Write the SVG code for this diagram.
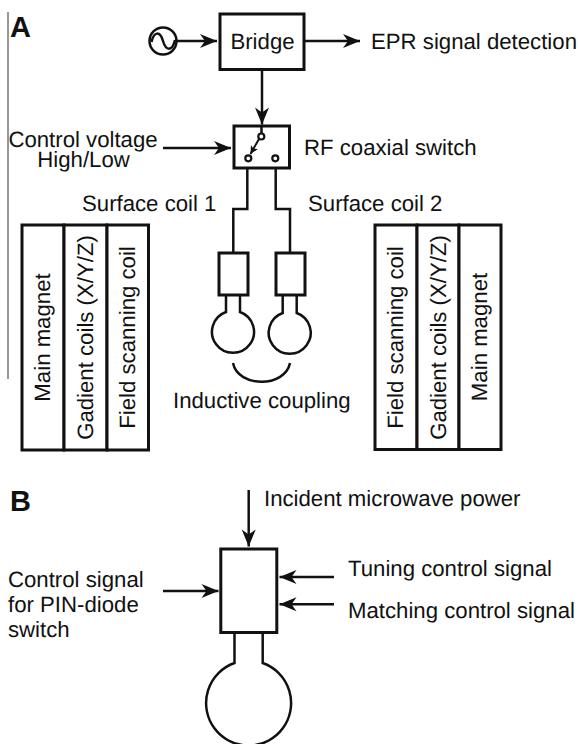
<svg xmlns="http://www.w3.org/2000/svg" width="578" height="744" viewBox="0 0 578 744">
<style>
text{font-family:"Liberation Sans",Arial,sans-serif;font-size:22.200px;fill:#111;text-rendering:geometricPrecision}
.h{font-size:29px;font-weight:bold}
.m{text-anchor:middle}
.s{fill:none;stroke:#111;stroke-width:2.500}
.b{fill:#fff;stroke:#111;stroke-width:3}
.c{fill:none;stroke:#111;stroke-width:2.500}
.a{fill:none;stroke:#111;stroke-width:2.500;marker-end:url(#ar)}
</style>
<defs>
<marker id="ar" markerUnits="userSpaceOnUse" markerWidth="19" markerHeight="16" refX="17.500" refY="8" orient="auto"><path d="M0.500 1L17.500 8L0.500 15L5.500 8Z" fill="#111"/></marker>
<marker id="sm" markerUnits="userSpaceOnUse" markerWidth="10" markerHeight="10" refX="8" refY="5" orient="auto"><path d="M0 1L8 5L0 9L2 5Z" fill="#111"/></marker>
</defs>
<path d="M8 12V379" fill="none" stroke="#333" stroke-width="1"/>
<text class="h" x="10" y="37">A</text>
<text class="h" x="10" y="510.500">B</text>
<g id="connectors">
<path class="a" d="M176 41H217"/>
<path class="a" d="M304 41H360"/>
<path class="a" d="M262 69V124.500"/>
<path class="a" d="M163 148H231"/>
<path class="c" d="M247.300 161V209H233.300V253"/>
<path class="c" d="M275.700 161V209H290V253"/>
<path class="c" d="M233 363C238 388 285 388 290 363"/>
<path class="a" d="M248.700 490V546.500"/>
<path class="a" d="M163 591H218.500"/>
<path class="a" d="M334 577H279.500"/>
<path class="a" d="M334 604.300H279.500"/>
</g>
<g id="source"><circle class="s" cx="163" cy="41" r="13.500"/><path class="s" d="M151.500 42C154 31 160 31 163 41S172 52 175 40"/></g>
<g id="bridge"><rect class="b" x="220" y="14" width="84" height="55.500"/><text class="m" x="262.500" y="49.300">Bridge</text></g>
<g id="epr"><text x="371" y="49.300">EPR signal detection</text></g>
<g id="switch"><rect class="b" x="234" y="126" width="55.500" height="42"/>
<path d="M261.500 126V133" class="c"/>
<path d="M259 139L250.500 154" fill="none" stroke="#111" stroke-width="2" marker-end="url(#sm)"/>
<circle cx="261.300" cy="136.500" r="3" fill="#fff" stroke="#111" stroke-width="2.200"/>
<circle cx="248.300" cy="158.300" r="3" fill="#fff" stroke="#111" stroke-width="2.200"/>
<circle cx="275.300" cy="158.300" r="3" fill="#fff" stroke="#111" stroke-width="2.200"/>
<text x="304" y="155">RF coaxial switch</text></g>
<g id="control"><text class="m" x="83" y="147">Control voltage</text><text class="m" x="83.500" y="167">High/Low</text></g>
<g id="labels-coils"><text x="82" y="211">Surface coil 1</text><text x="308" y="211">Surface coil 2</text></g>
<g id="coil1"><rect class="b" x="219" y="253" width="29" height="42"/><path class="c" d="M226 295V312A21 21 0 1 0 240 312V295"/></g>
<g id="coil2"><rect class="b" x="276" y="253" width="29" height="42"/><path class="c" d="M282.700 295V313A21 21 0 1 0 296.700 313V295"/></g>
<g id="inductive"><text x="173" y="408">Inductive coupling</text></g>
<g id="left-stack">
<rect class="b" x="22" y="225" width="42" height="225"/><rect class="b" x="64" y="225" width="43" height="225"/><rect class="b" x="107" y="225" width="41.500" height="225"/>
<text class="m" transform="translate(50 337.500) rotate(-90)">Main magnet</text>
<text class="m" transform="translate(93 337.500) rotate(-90)">Gadient coils (X/Y/Z)</text>
<text class="m" transform="translate(135 337.500) rotate(-90)">Field scanning coil</text>
</g>
<g id="right-stack">
<rect class="b" x="375" y="225" width="42" height="224.500"/><rect class="b" x="417" y="225" width="42" height="224.500"/><rect class="b" x="459" y="225" width="42" height="224.500"/>
<text class="m" transform="translate(403 337.500) rotate(-90)">Field scanning coil</text>
<text class="m" transform="translate(446 337.500) rotate(-90)">Gadient coils (X/Y/Z)</text>
<text class="m" transform="translate(487 337) rotate(-90)">Main magnet</text>
</g>
<g id="incident"><text x="264" y="506">Incident microwave power</text></g>
<g id="tuner"><rect class="b" x="220.800" y="549" width="56" height="83.500"/><path class="c" d="M234.500 633V663A42.500 42.500 0 1 0 262.700 663V633"/></g>
<g id="pin"><text x="8" y="587">Control signal</text><text x="8" y="612">for PIN-diode</text><text x="8" y="637">switch</text></g>
<g id="tuning"><text x="348" y="576">Tuning control signal</text></g>
<g id="matching"><text x="348" y="618">Matching control signal</text></g>
</svg>
